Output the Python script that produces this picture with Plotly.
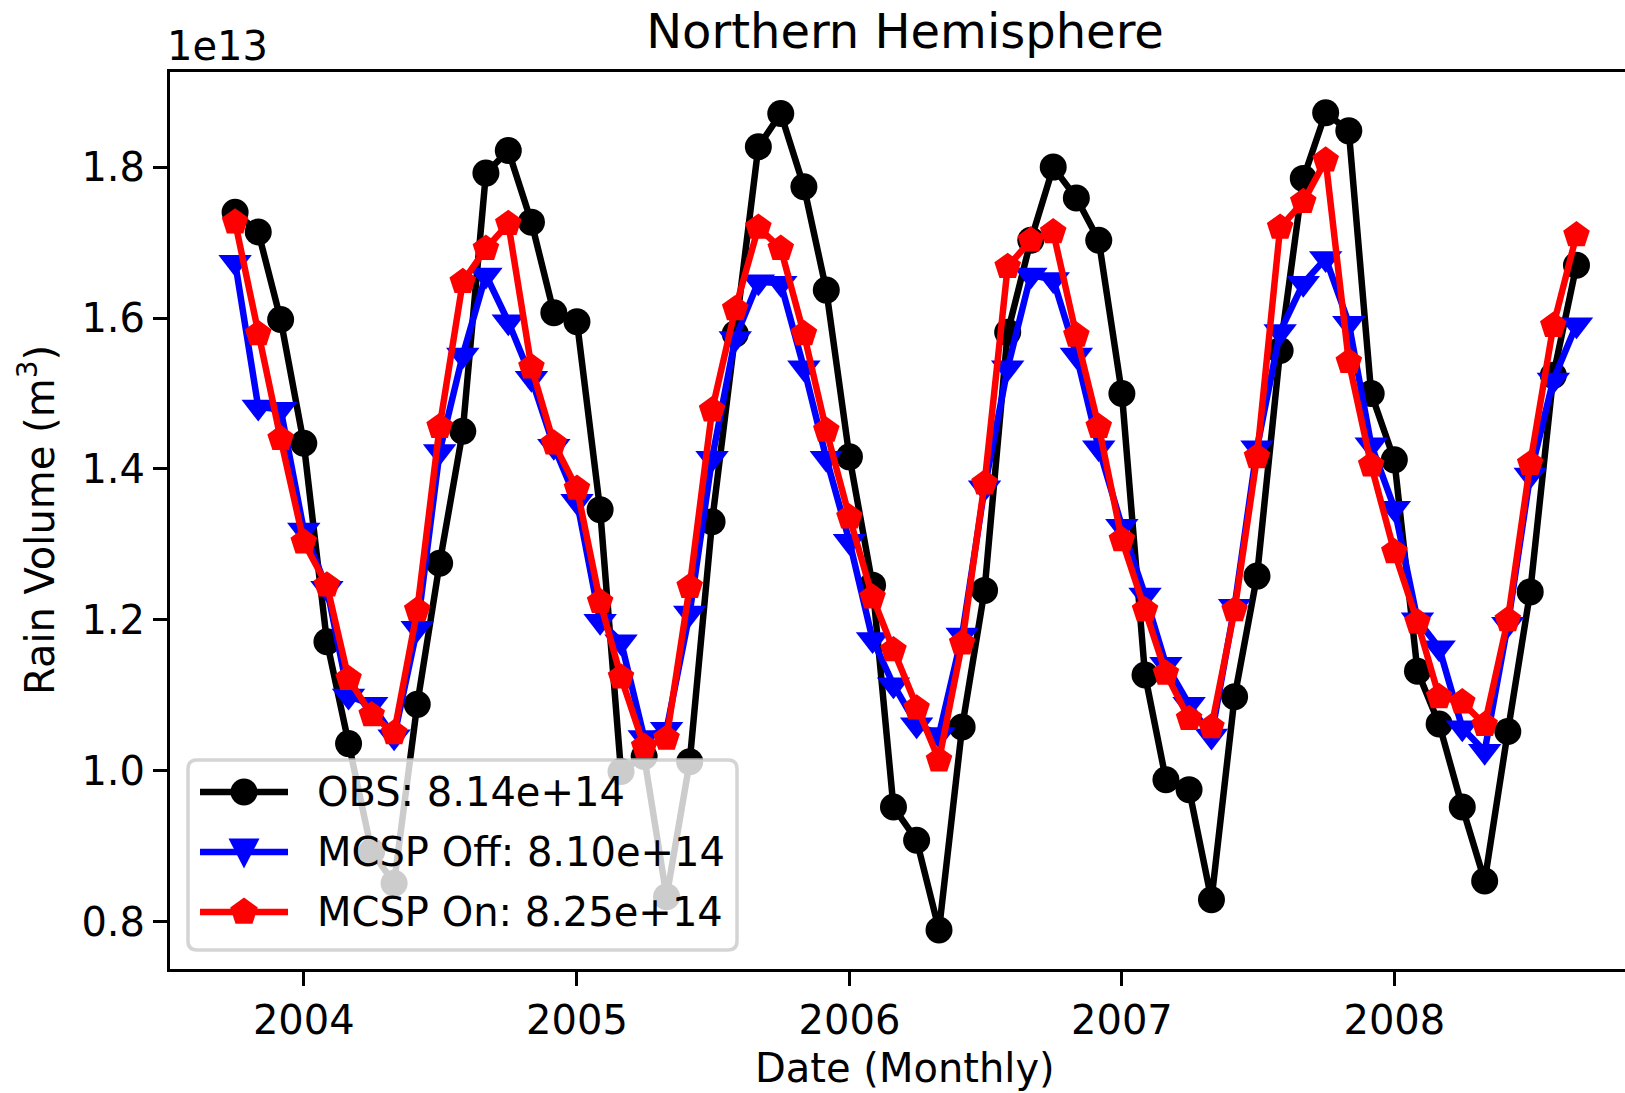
import pandas as pd
import plotly.graph_objects as go

# ---------------- data (values in units of 1e13 m^3) ----------------
start_month = "2003-10-01"
n_months = 60
dates = pd.date_range(start_month, periods=n_months, freq="MS")

obs = [1.740, 1.714, 1.598, 1.434, 1.171, 1.036, 0.893, 0.851, 1.088, 1.275,
       1.450, 1.792, 1.822, 1.727, 1.607, 1.595, 1.346, 0.999, 1.019, 0.833,
       1.012, 1.330, 1.579, 1.827, 1.871, 1.774, 1.637, 1.416, 1.246, 0.952,
       0.908, 0.789, 1.058, 1.239, 1.581, 1.703, 1.800, 1.759, 1.703, 1.500,
       1.127, 0.988, 0.975, 0.829, 1.098, 1.258, 1.557, 1.785, 1.872, 1.848,
       1.500, 1.412, 1.132, 1.062, 0.952, 0.854, 1.052, 1.237, 1.524, 1.670]

mcsp_off = [1.674, 1.482, 1.479, 1.319, 1.242, 1.099, 1.088, 1.045, 1.189, 1.423,
            1.551, 1.657, 1.595, 1.520, 1.430, 1.357, 1.198, 1.171, 1.044, 1.055,
            1.209, 1.414, 1.573, 1.648, 1.646, 1.534, 1.414, 1.304, 1.174, 1.114,
            1.061, 1.048, 1.180, 1.375, 1.534, 1.657, 1.651, 1.551, 1.428, 1.324,
            1.233, 1.141, 1.088, 1.046, 1.218, 1.428, 1.582, 1.646, 1.679, 1.593,
            1.432, 1.348, 1.200, 1.163, 1.057, 1.026, 1.194, 1.392, 1.518, 1.591]

mcsp_on = [1.727, 1.579, 1.440, 1.303, 1.246, 1.122, 1.074, 1.050, 1.213, 1.456,
           1.648, 1.692, 1.725, 1.535, 1.434, 1.374, 1.224, 1.124, 1.032, 1.043,
           1.244, 1.478, 1.612, 1.720, 1.692, 1.579, 1.451, 1.336, 1.230, 1.160,
           1.083, 1.014, 1.169, 1.381, 1.668, 1.703, 1.714, 1.577, 1.456, 1.306,
           1.213, 1.129, 1.069, 1.058, 1.213, 1.416, 1.720, 1.754, 1.809, 1.542,
           1.405, 1.290, 1.197, 1.098, 1.091, 1.061, 1.200, 1.407, 1.590, 1.710]

series_names = ["OBS: 8.14e+14", "MCSP Off: 8.10e+14", "MCSP On: 8.25e+14"]
x_tick_vals = ["2004-01-01", "2005-01-01", "2006-01-01", "2007-01-01", "2008-01-01"]
x_tick_text = ["2004", "2005", "2006", "2007", "2008"]
y_tick_vals = [0.8, 1.0, 1.2, 1.4, 1.6, 1.8]
y_tick_text = ["0.8", "1.0", "1.2", "1.4", "1.6", "1.8"]
offset_text = "1e13"

# ---------------- layout geometry ----------------
W, H = 1625, 1093
L, R, T, B = 170, 0, 72, 124
PW, PH = W - L - R, H - T - B
FONT = "DejaVu Sans"


def px(xp):
    return (xp - L) / PW


def py(yp):
    return 1 - (yp - T) / PH


LW = 6.5
fig = go.Figure()
fig.add_trace(go.Scatter(x=dates, y=obs, mode="lines+markers", name=series_names[0],
                         line=dict(color="black", width=LW),
                         marker=dict(symbol="circle", size=27, color="black", line=dict(width=0)),
                         showlegend=False))
fig.add_trace(go.Scatter(x=dates, y=mcsp_off, mode="lines+markers", name=series_names[1],
                         line=dict(color="#0000ff", width=LW),
                         marker=dict(symbol="triangle-down", size=29, color="#0000ff", line=dict(width=0)),
                         showlegend=False))
fig.add_trace(go.Scatter(x=dates, y=mcsp_on, mode="lines+markers", name=series_names[2],
                         line=dict(color="#ff0000", width=LW),
                         marker=dict(symbol="pentagon", size=28, color="#ff0000", line=dict(width=0)),
                         showlegend=False))

# ---------------- custom legend (matplotlib-like) ----------------
bx0, bx1, by0, by1, rad = 188, 737, 760, 950, 9
def P(x, y):
    return f"{px(x):.6f},{py(y):.6f}"

box_path = (f"M{P(bx0 + rad, by0)} L{P(bx1 - rad, by0)} Q{P(bx1, by0)} {P(bx1, by0 + rad)} "
            f"L{P(bx1, by1 - rad)} Q{P(bx1, by1)} {P(bx1 - rad, by1)} "
            f"L{P(bx0 + rad, by1)} Q{P(bx0, by1)} {P(bx0, by1 - rad)} "
            f"L{P(bx0, by0 + rad)} Q{P(bx0, by0)} {P(bx0 + rad, by0)} Z")
shapes = [dict(type="path", xref="paper", yref="paper", path=box_path, layer="above",
               fillcolor="rgba(255,255,255,0.8)", line=dict(color="rgba(204,204,204,0.85)", width=3.5))]

rows = [792, 852, 912]
colors = ["black", "#0000ff", "#ff0000"]
lx0, lx1, mx, tx = 200, 288, 244, 315
for yv, c in zip(rows, colors):
    shapes.append(dict(type="line", xref="paper", yref="paper", x0=px(lx0), x1=px(lx1),
                       y0=py(yv), y1=py(yv), layer="above", line=dict(color=c, width=LW)))
# markers
shapes.append(dict(type="circle", xref="paper", yref="paper", xsizemode="pixel", ysizemode="pixel",
                   xanchor=px(mx), yanchor=py(rows[0]), x0=-13.5, x1=13.5, y0=-13.5, y1=13.5,
                   layer="above", fillcolor="black", line=dict(width=0)))
shapes.append(dict(type="path", xref="paper", yref="paper", xsizemode="pixel", ysizemode="pixel",
                   xanchor=px(mx), yanchor=py(rows[1]), path="M-15.5,13.4 L15.5,13.4 L0,-16.6 Z",
                   layer="above", fillcolor="#0000ff", line=dict(width=0)))
shapes.append(dict(type="path", xref="paper", yref="paper", xsizemode="pixel", ysizemode="pixel",
                   xanchor=px(mx), yanchor=py(rows[2]),
                   path="M0,14.5 L13.8,4.5 L8.5,-11.7 L-8.5,-11.7 L-13.8,4.5 Z",
                   layer="above", fillcolor="#ff0000", line=dict(width=0)))

annotations = []
for yv, name in zip(rows, series_names):
    annotations.append(dict(text=name, xref="paper", yref="paper", x=px(tx), y=py(yv),
                            xanchor="left", yanchor="middle", showarrow=False,
                            font=dict(family=FONT, size=40, color="black")))
annotations.append(dict(text=offset_text, xref="paper", yref="paper", x=px(165), y=py(46),
                        xanchor="left", yanchor="middle", showarrow=False,
                        font=dict(family=FONT, size=40, color="black")))
annotations.append(dict(text="Rain Volume (m<sup>3</sup>)", xref="paper", yref="paper",
                        x=px(37), y=py(520), xanchor="center", yanchor="middle", textangle=-90,
                        showarrow=False, font=dict(family=FONT, size=40, color="black")))
annotations.append(dict(text="Date (Monthly)", xref="paper", yref="paper",
                        x=px(905), y=py(1068), xanchor="center", yanchor="middle",
                        showarrow=False, font=dict(family=FONT, size=40, color="black")))

fig.update_layout(
    width=W, height=H,
    margin=dict(l=L, r=R, t=T, b=B, pad=0),
    paper_bgcolor="white", plot_bgcolor="white",
    font=dict(family=FONT, size=40, color="black"),
    title=dict(text="Northern Hemisphere", x=905 / W, xref="container", xanchor="center",
               y=1 - 31 / H, yref="container", yanchor="middle",
               font=dict(family=FONT, size=48, color="black")),
    showlegend=False,
    shapes=shapes,
    annotations=annotations,
)
fig.update_xaxes(type="date", range=["2003-07-05 19:00", "2008-11-05"],
                 tickvals=x_tick_vals, ticktext=x_tick_text,
                 ticks="outside", ticklen=14, tickwidth=3, tickcolor="black",
                 showline=True, linecolor="black", linewidth=3, mirror=True,
                 showgrid=False, zeroline=False,
                 tickfont=dict(family=FONT, size=40, color="black"))
fig.update_yaxes(range=[0.7373, 1.926], tickvals=y_tick_vals, ticktext=y_tick_text,
                 ticks="outside", ticklen=14, tickwidth=3, tickcolor="black",
                 showline=True, linecolor="black", linewidth=3, mirror=False,
                 showgrid=False, zeroline=False,
                 tickfont=dict(family=FONT, size=40, color="black"))

fig.write_html("out.html")
